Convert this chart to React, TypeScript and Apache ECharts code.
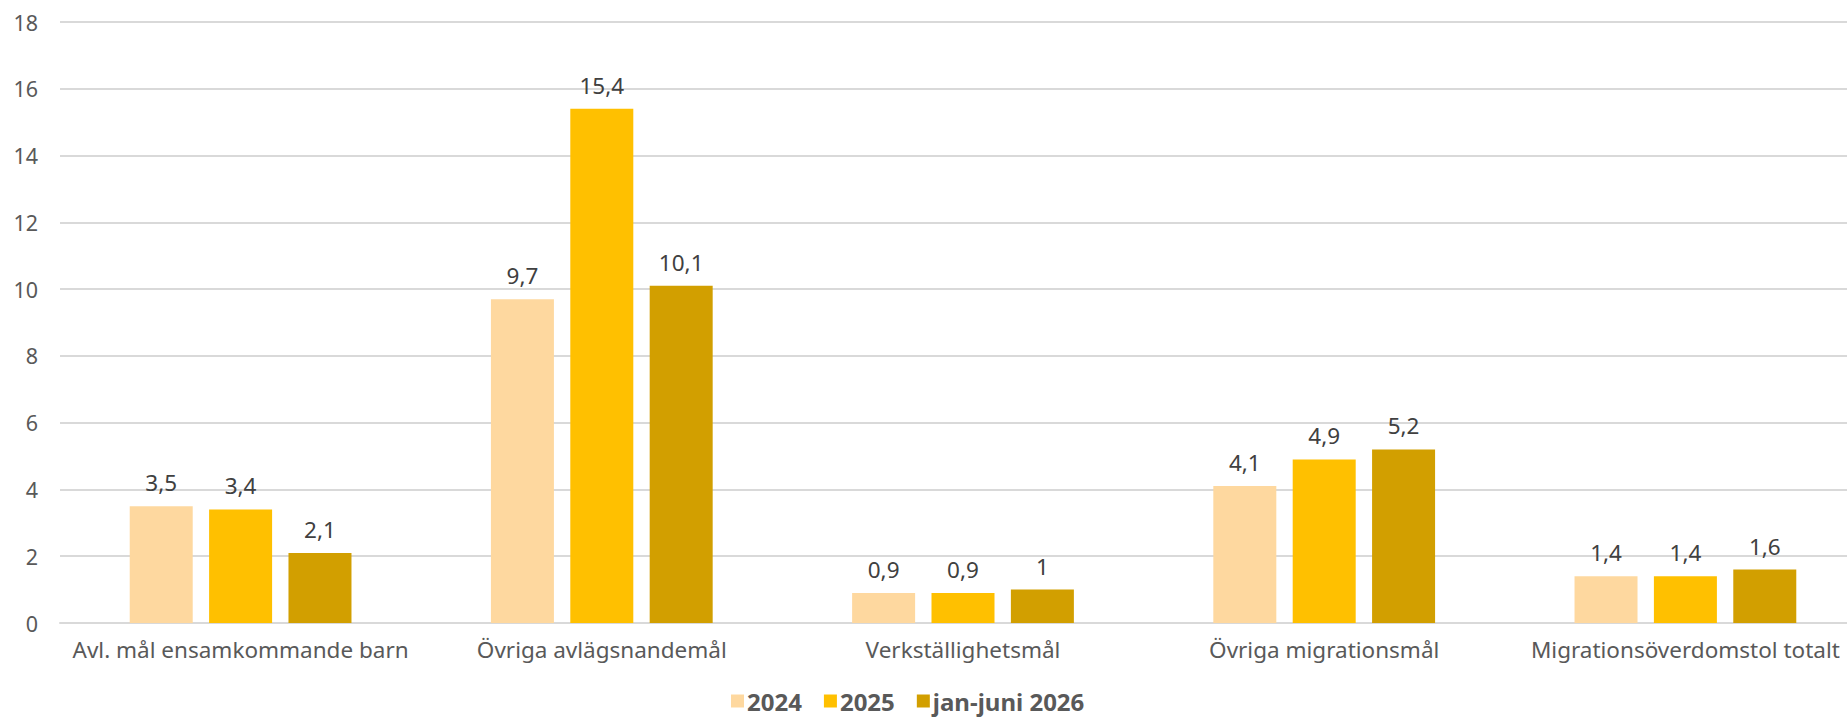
import React, { useEffect, useRef } from "react";
import * as echarts from "echarts";

const categories = [
  "Avl. mål ensamkommande barn",
  "Övriga avlägsnandemål",
  "Verkställighetsmål",
  "Övriga migrationsmål",
  "Migrationsöverdomstol totalt",
];
const seriesNames = ["2024", "2025", "jan-juni 2026"];
const values2024 = [3.5, 9.7, 0.9, 4.1, 1.4];
const values2025 = [3.4, 15.4, 0.9, 4.9, 1.4];
const valuesJanJuni2026 = [2.1, 10.1, 1.0, 5.2, 1.6];
const colors = ["#FED89F", "#FFC000", "#D29F00"];

const FONT = "'Noto Sans', sans-serif";

export default function App() {
  const ref = useRef<HTMLDivElement>(null);
  useEffect(() => {
    document.body.style.margin = "0";
    const chart = echarts.init(ref.current!, null, { renderer: "svg" });
    const allValues = [values2024, values2025, valuesJanJuni2026];
    chart.setOption({
      animation: false,
      textStyle: { fontFamily: FONT },
      grid: {
        left: 60,
        top: 22,
        bottom: 96,
        width: 1806,
        outerBoundsMode: "none",
        containLabel: false,
      },
      legend: {
        left: 726,
        bottom: 1,
        itemWidth: 13,
        itemHeight: 13,
        itemGap: 22,
        icon: "rect",
        textStyle: {
          fontFamily: FONT,
          fontSize: 24,
          fontWeight: "bold",
          color: "#595959",
          padding: [0, 0, 0, -2],
        },
        data: seriesNames,
      },
      xAxis: {
        type: "category",
        data: categories,
        axisLine: { lineStyle: { color: "#D9D9D9", width: 2 } },
        axisTick: { show: false },
        axisLabel: {
          interval: 0,
          color: "#595959",
          fontSize: 22.5,
          fontFamily: FONT,
          margin: 15,
        },
      },
      yAxis: {
        type: "value",
        min: 0,
        max: 18,
        interval: 2,
        axisLine: { show: false },
        axisTick: { show: false },
        splitLine: { lineStyle: { color: "#D9D9D9", width: 2 } },
        axisLabel: {
          color: "#595959",
          fontSize: 21.5,
          fontFamily: FONT,
          margin: 22,
        },
      },
      series: seriesNames.map((name, i) => ({
        name,
        type: "bar",
        data: allValues[i],
        barWidth: 63,
        barGap: "26%",
        itemStyle: { color: colors[i] },
        label: {
          show: true,
          position: "top",
          distance: 12,
          color: "#404040",
          fontSize: 22.5,
          fontFamily: FONT,
          formatter: (p: any) => String(p.value).replace(".", ","),
        },
      })),
    });
    return () => chart.dispose();
  }, []);
  return <div ref={ref} style={{ width: 1847, height: 719 }} />;
}
